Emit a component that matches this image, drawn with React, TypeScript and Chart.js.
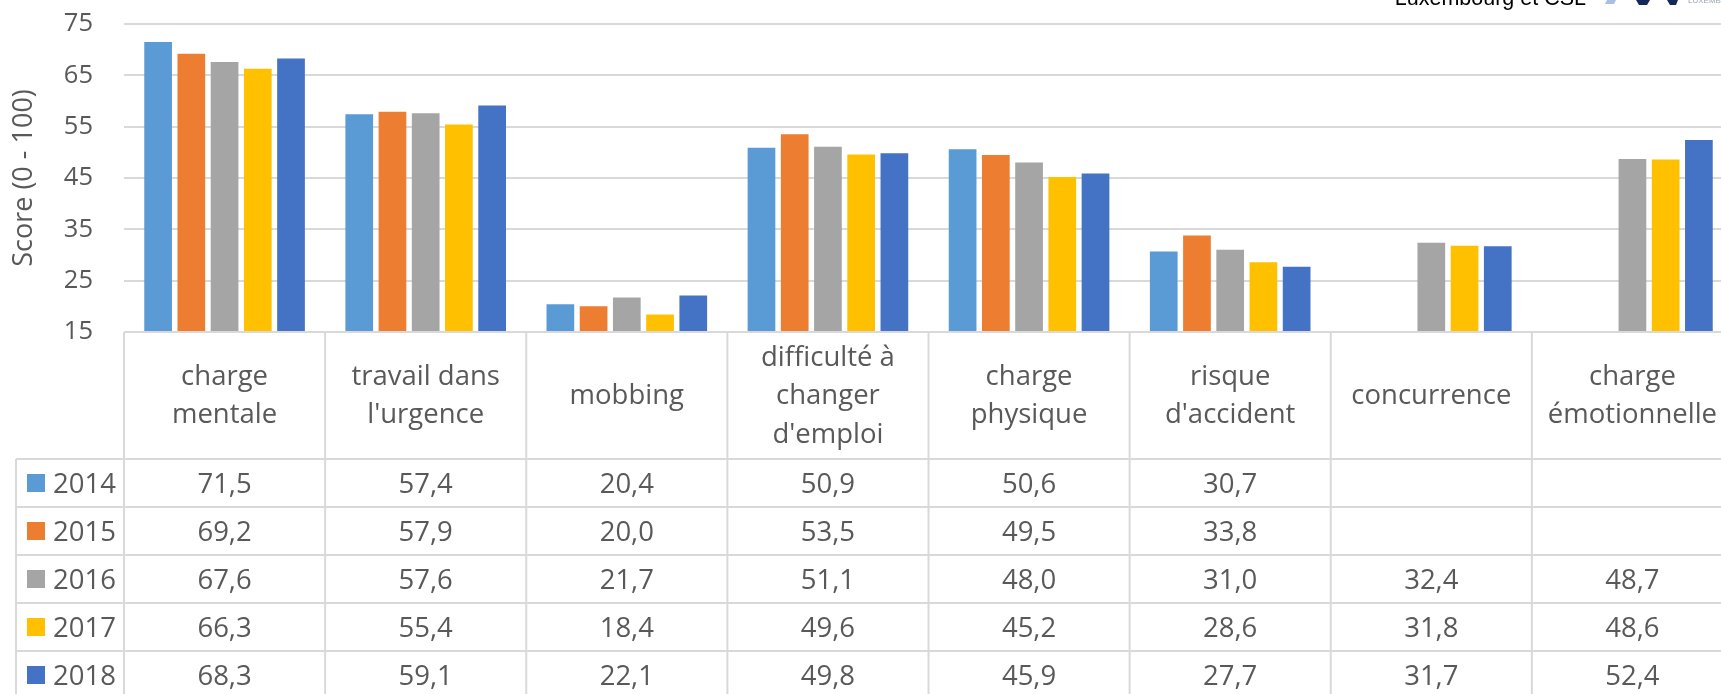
import React, { useEffect, useRef } from "react";
import { Chart, registerables } from "chart.js";

Chart.register(...registerables);

// ---------- data ----------
const categories: string[][] = [
  ["charge", "mentale"],
  ["travail dans", "l'urgence"],
  ["mobbing"],
  ["difficulté à", "changer", "d'emploi"],
  ["charge", "physique"],
  ["risque", "d'accident"],
  ["concurrence"],
  ["charge", "émotionnelle"],
];
const years = ["2014", "2015", "2016", "2017", "2018"];
const values2014 = [71.5, 57.4, 20.4, 50.9, 50.6, 30.7, null, null];
const values2015 = [69.2, 57.9, 20.0, 53.5, 49.5, 33.8, null, null];
const values2016 = [67.6, 57.6, 21.7, 51.1, 48.0, 31.0, 32.4, 48.7];
const values2017 = [66.3, 55.4, 18.4, 49.6, 45.2, 28.6, 31.8, 48.6];
const values2018 = [68.3, 59.1, 22.1, 49.8, 45.9, 27.7, 31.7, 52.4];
const seriesValues = [values2014, values2015, values2016, values2017, values2018];
const yMin = 15;
const yMax = 75;
const yStep = 10;
const yTitle = "Score (0 - 100)";
const sourceText = "Luxembourg et CSL";
const logoText = "LUXEMBOURG";

// ---------- styles ----------
const colors = ["#5B9BD5", "#ED7D31", "#A5A5A5", "#FFC000", "#4472C4"];
const TEXT = "#595959";
const GRID = "#d9d9d9";
const FONT = "'Open Sans', 'Noto Sans', sans-serif";
const CANVAS_W = 1740;
const CANVAS_H = 694;

const fmt = (v: number | null) => (v == null ? "" : v.toFixed(1).replace(".", ","));

const tablePlugin = {
  id: "dataTable",
  afterDraw(chart: any) {
    const { ctx, chartArea, scales } = chart;
    const x = scales.x;
    const n = categories.length;
    const catW = x.getPixelForValue(1) - x.getPixelForValue(0);
    const top = chartArea.bottom;
    const headerBottom = top + 127;
    const rowH = 48;
    const tableLeft = 16;
    const W = chart.width;
    const H = chart.height;

    ctx.save();
    ctx.strokeStyle = GRID;
    ctx.lineWidth = 2;
    const line = (x1: number, y1: number, x2: number, y2: number) => {
      ctx.beginPath();
      ctx.moveTo(x1, y1);
      ctx.lineTo(x2, y2);
      ctx.stroke();
    };
    line(chartArea.left, top, W, top);
    for (let k = 0; k <= years.length; k++) {
      const yy = headerBottom + k * rowH;
      line(tableLeft, yy, W, yy);
    }
    for (let i = 0; i <= n; i++) {
      const xx = chartArea.left + i * catW;
      line(xx, top, xx, H);
    }
    line(tableLeft, headerBottom, tableLeft, H);

    // header labels
    ctx.fillStyle = TEXT;
    ctx.font = `27.5px ${FONT}`;
    ctx.textAlign = "center";
    ctx.textBaseline = "alphabetic";
    const headerCenter = (top + headerBottom) / 2;
    const lh = 38.5;
    categories.forEach((lines, i) => {
      const cx = x.getPixelForValue(i);
      lines.forEach((t, j) => {
        const yy = headerCenter + (j - (lines.length - 1) / 2) * lh + 8.5;
        ctx.fillText(t, cx, yy);
      });
    });

    // rows
    years.forEach((yr, r) => {
      const rc = headerBottom + r * rowH + rowH / 2;
      ctx.fillStyle = colors[r];
      ctx.fillRect(27, rc - 9, 18, 18);
      ctx.fillStyle = TEXT;
      ctx.textAlign = "left";
      ctx.fillText(yr, 53, rc + 10);
      ctx.textAlign = "center";
      seriesValues[r].forEach((v, i) => {
        const s = fmt(v as number | null);
        if (s) ctx.fillText(s, x.getPixelForValue(i), rc + 10);
      });
    });

    // source text (cropped at the top)
    ctx.fillStyle = "#000000";
    ctx.font = "21.5px 'Liberation Sans', Arial, sans-serif";
    ctx.textAlign = "right";
    ctx.fillText(sourceText, 1586, 5);

    // logo fragment
    ctx.fillStyle = "#a9bfe6";
    ctx.beginPath();
    ctx.moveTo(1607, 0);
    ctx.lineTo(1616, 0);
    ctx.lineTo(1614, 4);
    ctx.lineTo(1605, 4);
    ctx.closePath();
    ctx.fill();
    ctx.fillStyle = "#14285a";
    ctx.beginPath();
    ctx.moveTo(1636, 0);
    ctx.lineTo(1650, 0);
    ctx.lineTo(1647, 5);
    ctx.lineTo(1639, 5);
    ctx.closePath();
    ctx.fill();
    ctx.beginPath();
    ctx.moveTo(1667, 0);
    ctx.lineTo(1678, 0);
    ctx.lineTo(1676, 5);
    ctx.lineTo(1670, 5);
    ctx.closePath();
    ctx.fill();
    ctx.fillStyle = "#9aa3b5";
    ctx.font = "8px 'Liberation Sans', Arial, sans-serif";
    ctx.textAlign = "left";
    ctx.fillText(logoText, 1688, 3);
    ctx.restore();
  },
};

export default function App() {
  const ref = useRef<HTMLCanvasElement | null>(null);

  useEffect(() => {
    if (!ref.current) return;
    const chart = new Chart(ref.current, {
      type: "bar",
      data: {
        labels: categories,
        datasets: years.map((y, i) => ({
          label: y,
          data: seriesValues[i] as any,
          backgroundColor: colors[i],
          borderWidth: 0,
          categoryPercentage: 0.826,
          barPercentage: 0.834,
        })),
      },
      options: {
        animation: false,
        responsive: false,
        devicePixelRatio: 1,
        layout: { padding: { left: 0, top: 24, right: 7, bottom: CANVAS_H - 332 } },
        plugins: { legend: { display: false }, tooltip: { enabled: false }, title: { display: false } },
        scales: {
          x: { display: false },
          y: {
            position: "left",
            min: yMin,
            max: yMax,
            ticks: {
              stepSize: yStep,
              color: TEXT,
              padding: 31,
              font: { family: FONT, size: 25.5 },
            },
            grid: { color: GRID, lineWidth: 2, drawTicks: false },
            border: { display: false },
            title: {
              display: true,
              text: yTitle,
              color: TEXT,
              font: { family: FONT, size: 27 },
              padding: { top: 8, bottom: 0 },
            },
            afterFit: (scale: any) => {
              scale.width = 124;
              scale.paddingTop = 10;
              scale.paddingBottom = 10;
            },
          },
        },
      },
      plugins: [tablePlugin],
    });
    return () => chart.destroy();
  }, []);

  return (
    <div style={{ position: "absolute", left: 0, top: 0, width: 1721, height: 694, overflow: "hidden", background: "#fff" }}>
      <canvas ref={ref} width={CANVAS_W} height={CANVAS_H} style={{ width: CANVAS_W, height: CANVAS_H, display: "block" }} />
    </div>
  );
}
